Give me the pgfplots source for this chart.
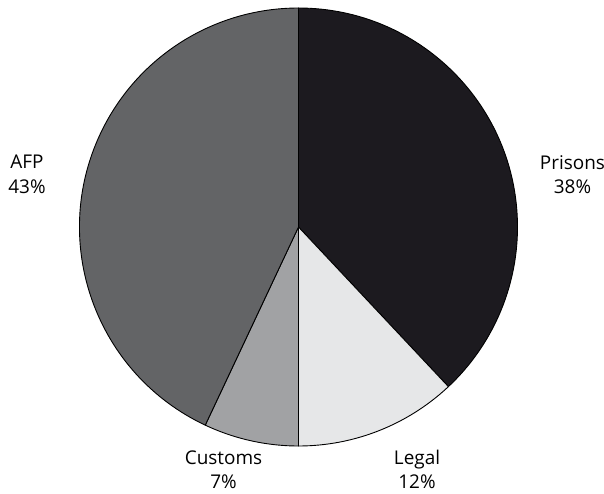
\documentclass[border=0pt]{standalone}
\usepackage{pgfplots}
\pgfplotsset{compat=1.18}
\usepackage{fontspec}
\setmainfont{Open Sans}
\definecolor{cPrisons}{HTML}{1C1A1F}
\definecolor{cLegal}{HTML}{E6E7E8}
\definecolor{cCustoms}{HTML}{A1A2A4}
\definecolor{cAFP}{HTML}{636466}
\begin{document}
\begin{tikzpicture}
\begin{axis}[anchor=origin, at={(0,0)}, x=1bp, y=1bp,
  xmin=0, xmax=604, ymin=0, ymax=494, hide axis, clip=false]
% shares (%): Prisons 38, Legal 12, Customs 7, AFP 43 (clockwise from top)
\filldraw[fill=cPrisons, draw=black, line width=0.9bp, line join=round]
  (axis cs:298.5,267) -- ++(90:219bp) arc[start angle=90, end angle={90-3.6*38}, radius=219bp] -- cycle;
\filldraw[fill=cLegal, draw=black, line width=0.9bp, line join=round]
  (axis cs:298.5,267) -- ++({90-3.6*38}:219bp) arc[start angle={90-3.6*38}, end angle={90-3.6*(38+12)}, radius=219bp] -- cycle;
\filldraw[fill=cCustoms, draw=black, line width=0.9bp, line join=round]
  (axis cs:298.5,267) -- ++({90-3.6*(38+12)}:219bp) arc[start angle={90-3.6*(38+12)}, end angle={90-3.6*(38+12+7)}, radius=219bp] -- cycle;
\filldraw[fill=cAFP, draw=black, line width=0.9bp, line join=round]
  (axis cs:298.5,267) -- ++({90-3.6*(38+12+7)}:219bp) arc[start angle={90-3.6*(38+12+7)}, end angle={90-3.6*(38+12+7+43)}, radius=219bp] -- cycle;
\node[align=center, font=\fontsize{19}{24.5}\selectfont] at (axis cs:572.5,319.5) {Prisons\\38\%};
\node[align=center, font=\fontsize{19}{24.5}\selectfont] at (axis cs:27,319.5) {AFP\\43\%};
\node[align=center, font=\fontsize{19}{24.5}\selectfont] at (axis cs:223.5,24.5) {Customs\\7\%};
\node[align=center, font=\fontsize{19}{24.5}\selectfont] at (axis cs:417,24.5) {Legal\\12\%};
\end{axis}
\pgfresetboundingbox
\path (0,0) rectangle (604bp,494bp);
\end{tikzpicture}
\end{document}
